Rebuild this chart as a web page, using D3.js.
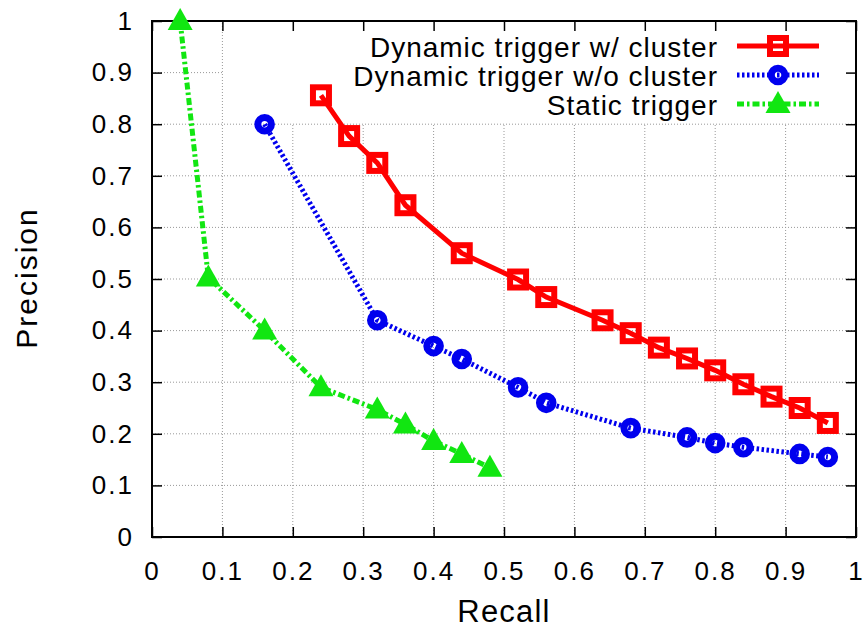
<!DOCTYPE html>
<meta charset="utf-8">

<!-- Body tag is where we will append our SVG -->
<body style="margin:0">
</body>

<script src="https://d3js.org/d3.v7.min.js"></script>
<script>

// axis ticks
var xTicks = [0, 0.1, 0.2, 0.3, 0.4, 0.5, 0.6, 0.7, 0.8, 0.9, 1];
var xTickLabels = ["0", "0.1", "0.2", "0.3", "0.4", "0.5", "0.6", "0.7", "0.8", "0.9", "1"];
var yTicks = [0, 0.1, 0.2, 0.3, 0.4, 0.5, 0.6, 0.7, 0.8, 0.9, 1];
var yTickLabels = ["0", "0.1", "0.2", "0.3", "0.4", "0.5", "0.6", "0.7", "0.8", "0.9", "1"];

var seriesNames = ["Dynamic trigger w/ cluster", "Dynamic trigger w/o cluster", "Static trigger"];

// Dynamic trigger w/ cluster
var clusterRecall = [0.24, 0.28, 0.32, 0.36, 0.44, 0.52, 0.56, 0.64, 0.68, 0.72, 0.76, 0.80, 0.84, 0.88, 0.92, 0.96];
var clusterPrecision = [0.856, 0.777, 0.725, 0.643, 0.55, 0.499, 0.465, 0.42, 0.395, 0.367, 0.346, 0.323, 0.296, 0.272, 0.25, 0.221];

// Dynamic trigger w/o cluster
var noClusterRecall = [0.16, 0.32, 0.40, 0.44, 0.52, 0.56, 0.68, 0.76, 0.80, 0.84, 0.92, 0.96];
var noClusterPrecision = [0.80, 0.42, 0.37, 0.345, 0.29, 0.26, 0.211, 0.193, 0.182, 0.174, 0.161, 0.155];

// Static trigger
var staticRecall = [0.04, 0.08, 0.16, 0.24, 0.32, 0.36, 0.40, 0.44, 0.48];
var staticPrecision = [1.0, 0.503, 0.40, 0.29, 0.247, 0.218, 0.186, 0.161, 0.134];

var margin = {top: 21, right: 9, bottom: 94, left: 152};
var width = 865 - margin.left - margin.right;
var height = 631 - margin.top - margin.bottom;
var font = "'Liberation Sans', Arial, Helvetica, sans-serif";

var x = d3.scaleLinear().domain([0, 1]).range([0, width]);
var y = d3.scaleLinear().domain([0, 1]).range([height, 0]);

var svg = d3.select("body").append("svg")
  .attr("width", 865)
  .attr("height", 631)
  .style("background", "#fff");

var g = svg.append("g")
  .attr("transform", "translate(" + margin.left + "," + margin.top + ")");

// grid, gnuplot leaves it out behind the key (upper right)
var keyLeft = 0.1, keyBottom = 0.8;

g.append("g")
  .selectAll("line")
  .data(xTicks.slice(1, -1))
  .enter()
  .append("line")
  .attr("x1", function(d){ return x(d); })
  .attr("x2", function(d){ return x(d); })
  .attr("y1", y(0))
  .attr("y2", function(d){ return d > keyLeft + 0.001 ? y(keyBottom) : y(1); })
  .attr("stroke", "#999")
  .attr("stroke-width", 1)
  .attr("stroke-dasharray", "1,2");

g.append("g")
  .selectAll("line")
  .data(yTicks.slice(1, -1))
  .enter()
  .append("line")
  .attr("y1", function(d){ return y(d); })
  .attr("y2", function(d){ return y(d); })
  .attr("x1", x(0))
  .attr("x2", function(d){ return d > keyBottom + 0.001 ? x(keyLeft) : x(1); })
  .attr("stroke", "#999")
  .attr("stroke-width", 1)
  .attr("stroke-dasharray", "1,2");

// axes, ticks point inward on all sides
function styleAxis(sel, size) {
  sel.select(".domain").remove();
  sel.selectAll("line").attr("stroke", "#000").attr("stroke-width", 1.5);
  sel.selectAll("text")
    .attr("font-family", font)
    .attr("font-size", size)
    .attr("letter-spacing", 2)
    .attr("fill", "#000");
}

g.append("g")
  .attr("transform", "translate(0," + height + ")")
  .call(d3.axisBottom(x).tickValues(xTicks)
    .tickFormat(function(d, i){ return xTickLabels[i]; })
    .tickSizeInner(-10).tickSizeOuter(0).tickPadding(25))
  .call(styleAxis, 26);

g.append("g")
  .call(d3.axisLeft(y).tickValues(yTicks)
    .tickFormat(function(d, i){ return yTickLabels[i]; })
    .tickSizeInner(-10).tickSizeOuter(0).tickPadding(18))
  .call(styleAxis, 26);

g.append("g")
  .call(d3.axisTop(x).tickValues(xTicks).tickFormat("")
    .tickSizeInner(-10).tickSizeOuter(0))
  .call(styleAxis, 26);

g.append("g")
  .attr("transform", "translate(" + width + ",0)")
  .call(d3.axisRight(y).tickValues(yTicks).tickFormat("")
    .tickSizeInner(-10).tickSizeOuter(0))
  .call(styleAxis, 26);

g.append("rect")
  .attr("width", width)
  .attr("height", height)
  .attr("fill", "none")
  .attr("stroke", "#000")
  .attr("stroke-width", 2);

// axis titles
svg.append("text")
  .attr("x", margin.left + width / 2)
  .attr("y", 622)
  .attr("text-anchor", "middle")
  .attr("font-family", font)
  .attr("font-size", 31)
  .attr("letter-spacing", 1.2)
  .text("Recall");

svg.append("text")
  .attr("transform", "translate(37,278) rotate(-90)")
  .attr("text-anchor", "middle")
  .attr("font-family", font)
  .attr("font-size", 30)
  .attr("letter-spacing", 2)
  .text("Precision");

// series
var series = [
  {name: seriesNames[0], pts: d3.zip(clusterRecall, clusterPrecision), color: "#ff0000", dash: null, mark: "square"},
  {name: seriesNames[1], pts: d3.zip(noClusterRecall, noClusterPrecision), color: "#0000ee", dash: "2.5,2.5", mark: "circle"},
  {name: seriesNames[2], pts: d3.zip(staticRecall, staticPrecision), color: "#11e611", dash: "7,3,2.5,3", mark: "triangle"}
];

var line = d3.line()
  .x(function(d){ return x(d[0]); })
  .y(function(d){ return y(d[1]); });

function drawMarker(sel, s) {
  if (s.mark == "square") {
    sel.append("rect")
      .attr("x", -8).attr("y", -8)
      .attr("width", 16).attr("height", 16)
      .attr("fill", "none")
      .attr("stroke", s.color)
      .attr("stroke-width", 6);
  } else if (s.mark == "circle") {
    sel.append("circle")
      .attr("r", 6.8)
      .attr("fill", "none")
      .attr("stroke", s.color)
      .attr("stroke-width", 7);
  } else {
    sel.append("path")
      .attr("d", "M0,-13L12.5,9L-12.5,9Z")
      .attr("fill", s.color);
  }
}

series.forEach(function(s) {
  g.append("path")
    .datum(s.pts)
    .attr("d", line)
    .attr("fill", "none")
    .attr("stroke", s.color)
    .attr("stroke-width", 5)
    .attr("stroke-dasharray", s.dash);

  g.append("g")
    .selectAll("g")
    .data(s.pts)
    .enter()
    .append("g")
    .attr("transform", function(d){ return "translate(" + x(d[0]) + "," + y(d[1]) + ")"; })
    .each(function(){ drawMarker(d3.select(this), s); });
});

// key
var key = svg.append("g");
series.forEach(function(s, i) {
  var base = 57 + i * 29;
  key.append("text")
    .attr("x", 718)
    .attr("y", base)
    .attr("text-anchor", "end")
    .attr("font-family", font)
    .attr("font-size", 28)
    .attr("letter-spacing", 1)
    .text(s.name);
  key.append("line")
    .attr("x1", 737).attr("x2", 819)
    .attr("y1", base - 11).attr("y2", base - 11)
    .attr("stroke", s.color)
    .attr("stroke-width", 5)
    .attr("stroke-dasharray", s.dash);
  key.append("g")
    .attr("transform", "translate(778," + (base - 11) + ")")
    .call(drawMarker, s);
});

</script>
